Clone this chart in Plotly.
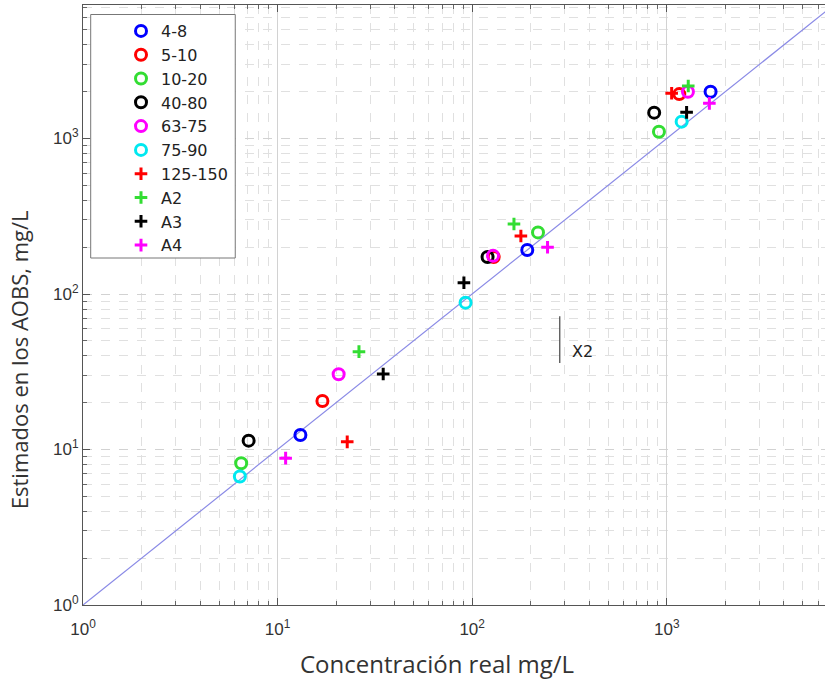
import math
import plotly.graph_objects as go

# ---- data ----
series_names = ["4-8", "5-10", "10-20", "40-80", "63-75", "75-90", "125-150", "A2", "A3", "A4"]
series_colors = ["#0000ff", "#ff0000", "#33dd33", "#000000", "#ff00ff", "#00e8f0",
                 "#ff0000", "#33dd33", "#000000", "#ff00ff"]
series_symbols = ["circle-open"] * 6 + ["cross-thin-open"] * 4

real_4_8 = [13.1, 192, 1680]
est_4_8 = [12.4, 192, 2000]
real_5_10 = [17.0, 129, 1160]
est_5_10 = [20.5, 173, 1930]
real_10_20 = [6.5, 218, 912]
est_10_20 = [8.15, 249, 1106]
real_40_80 = [7.1, 120, 862]
est_40_80 = [11.4, 173, 1466]
real_63_75 = [20.6, 128, 1285]
est_63_75 = [30.5, 176, 2000]
real_75_90 = [6.4, 92.5, 1193]
est_75_90 = [6.7, 88, 1283]
real_125_150 = [22.8, 178, 1060]
est_125_150 = [11.2, 236, 1953]
real_A2 = [26.2, 164, 1290]
est_A2 = [42.6, 282, 2177]
real_A3 = [34.9, 90.7, 1265]
est_A3 = [30.6, 118, 1473]
real_A4 = [11.0, 244, 1656]
est_A4 = [8.8, 200, 1683]

reals = [real_4_8, real_5_10, real_10_20, real_40_80, real_63_75, real_75_90,
         real_125_150, real_A2, real_A3, real_A4]
ests = [est_4_8, est_5_10, est_10_20, est_40_80, est_63_75, est_75_90,
        est_125_150, est_A2, est_A3, est_A4]

identity_x = [1, 10000]
identity_y = [1, 10000]

x2_x = [282, 282]
x2_y = [36, 72]
x2_label = "X2"
x2_label_pos = (320, 43)

major_vals = [1, 10, 100, 1000]
major_text = ["10<sup>0</sup>", "10<sup>1</sup>", "10<sup>2</sup>", "10<sup>3</sup>"]
minor_vals = [m * 10 ** e for e in range(0, 4) for m in range(2, 10)]

x_title = "Concentración real mg/L"
y_title = "Estimados en los AOBS, mg/L"

# ---- figure ----
fig = go.Figure()

fig.add_trace(go.Scatter(x=identity_x, y=identity_y, mode="lines",
                         line=dict(color="#8a8ae6", width=1.2), showlegend=False,
                         hoverinfo="skip"))
fig.add_trace(go.Scatter(x=x2_x, y=x2_y, mode="lines",
                         line=dict(color="#444444", width=1.2), showlegend=False,
                         hoverinfo="skip"))

for name, col, sym, xs, ys in zip(series_names, series_colors, series_symbols, reals, ests):
    if sym == "circle-open":
        marker = dict(symbol=sym, size=11, color=col, line=dict(color=col, width=3))
    else:
        marker = dict(symbol=sym, size=9, color=col, line=dict(color=col, width=3))
    fig.add_trace(go.Scatter(x=xs, y=ys, mode="markers", name=name, marker=marker))

fig.add_annotation(x=math.log10(x2_label_pos[0]), y=math.log10(x2_label_pos[1]),
                   xref="x", yref="y", text=x2_label, showarrow=False,
                   xanchor="left", yanchor="middle",
                   font=dict(family="DejaVu Sans", size=16, color="#222222"))

W, H = 825, 680
X0, X1 = 83.3, 825.0
Y0, Y1 = 605.0, 5.0
xdec, ydec = 194.5, 155.5
PW, PH = X1 - X0, Y0 - Y1


def px_x(p):
    return (p - X0) / PW


def px_y(p):
    return (Y0 - p) / PH


fig.add_annotation(x=px_x(437), y=-0.097, xref="paper", yref="paper",
                   text=x_title, showarrow=False, xanchor="center", yanchor="middle",
                   font=dict(family="Open Sans", size=24, color="#333333"))
fig.add_annotation(x=-0.086, y=px_y(360), xref="paper", yref="paper",
                   text=y_title, showarrow=False, textangle=-90,
                   xanchor="center", yanchor="middle",
                   font=dict(family="Open Sans", size=22, color="#333333"))

# legend frame
fig.add_shape(type="rect", xref="paper", yref="paper",
              x0=px_x(91), x1=px_x(235.5), y0=px_y(258), y1=px_y(14.5),
              fillcolor="white", line=dict(color="#777777", width=1), layer="above")

grid_major = "#d2d2d2"
grid_minor = "#e0e0e0"
tickfont = dict(family="Liberation Sans, Arial", size=17, color="#333333")

fig.update_xaxes(type="log", range=[0, (X1 - X0) / xdec],
                 tickvals=major_vals, ticktext=major_text, tickfont=tickfont,
                 ticks="inside", ticklen=7, tickcolor="#555555", ticklabelstandoff=9,
                 showline=True, linecolor="#555555", linewidth=1, mirror="allticks",
                 showgrid=True, gridcolor=grid_major, gridwidth=1,
                 zeroline=False,
                 minor=dict(tickvals=minor_vals, ticks="inside", ticklen=4,
                            tickcolor="#666666", showgrid=True, gridcolor=grid_minor,
                            griddash="dash", gridwidth=1))
fig.update_yaxes(type="log", range=[0, (Y0 - Y1) / ydec],
                 tickvals=major_vals, ticktext=major_text, tickfont=tickfont,
                 ticks="inside", ticklen=7, tickcolor="#555555",
                 showline=True, linecolor="#555555", linewidth=1, mirror=False,
                 showgrid=True, gridcolor=grid_major, gridwidth=1, griddash="dash",
                 zeroline=False,
                 minor=dict(tickvals=minor_vals, ticks="inside", ticklen=4,
                            tickcolor="#666666", showgrid=True, gridcolor=grid_minor,
                            griddash="dash", gridwidth=1))

fig.update_layout(
    width=W, height=H,
    margin=dict(l=X0, r=0, t=Y1, b=H - Y0, pad=0, autoexpand=False),
    paper_bgcolor="white", plot_bgcolor="white",
    showlegend=True,
    legend=dict(xref="container", yref="container",
                x=121 / W, y=1 - 14 / H,
                xanchor="left", yanchor="top",
                bgcolor="rgba(0,0,0,0)", borderwidth=0,
                font=dict(family="DejaVu Sans", size=16, color="#222222"),
                tracegroupgap=0),
)

fig.write_html("out.html", config={"displayModeBar": False},
               post_script="document.body.style.margin='0px';")
